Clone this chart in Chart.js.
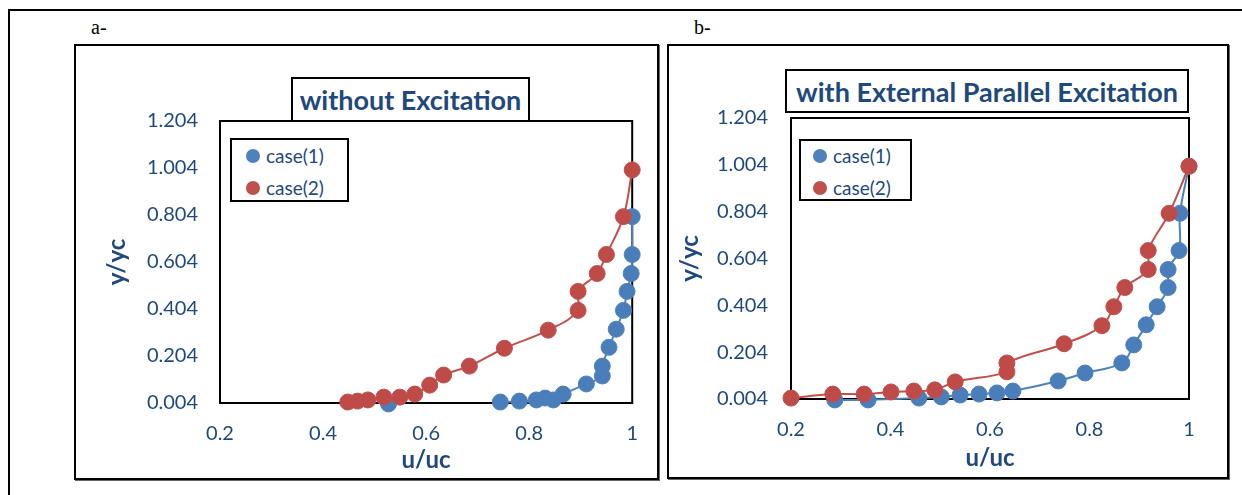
<!DOCTYPE html>
<html>
<head>
<meta charset="utf-8">
<script src="https://cdn.jsdelivr.net/npm/chart.js@4.4.0/dist/chart.umd.min.js"></script>
<style>
  body { margin: 0; background: #fff; width: 1242px; height: 495px; position: relative; overflow: hidden; font-family: Lato, "Open Sans", sans-serif; }
  .line { position: absolute; background: #000; }
  .lbl { position: absolute; font-family: "Liberation Serif", serif; font-size: 20px; color: #000; }
  .box { position: absolute; border: 2px solid #000; box-shadow: 1px 1px 0 #666; background: #fff; }
  .title { position: absolute; border: 2px solid #000; background: #fff; color: #1F497D; font-weight: bold;
           font-size: 27px; display: flex; align-items: center; justify-content: center; white-space: nowrap; }
  .legend { position: absolute; border: 2px solid #000; background: #fff; color: #1F497D; font-size: 19px; }
  .legend div { position: absolute; left: 34px; line-height: 22px; }
  .legend span { position: absolute; width: 14px; height: 14px; border-radius: 50%; left: -20px; top: 4px; }
  canvas { position: absolute; }
</style>
</head>
<body>
<div class="line" style="left:8px;top:9px;width:1234px;height:2px"></div>
<div class="line" style="left:8px;top:9px;width:2px;height:486px"></div>
<div class="lbl" style="left:91px;top:16px">a-</div>
<div class="lbl" style="left:694px;top:16px">b-</div>

<div class="box" style="left:74px;top:44px;width:581px;height:432px"></div>
<div class="box" style="left:667px;top:44px;width:558px;height:431px"></div>

<canvas id="chartA" width="581" height="432" style="left:76px;top:46px"></canvas>
<canvas id="chartB" width="558" height="431" style="left:669px;top:46px"></canvas>

<div class="title" style="left:291px;top:77px;width:235px;height:41px">without Excitation</div>
<div class="title" style="left:785px;top:69px;width:400px;height:40px">with External Parallel Excitation</div>

<div class="legend" style="left:230px;top:138px;width:115px;height:60px">
  <div style="top:5px"><span style="background:#4F81BD"></span>case(1)</div>
  <div style="top:37px"><span style="background:#C0504D"></span>case(2)</div>
</div>
<div class="legend" style="left:799px;top:139px;width:109px;height:58px">
  <div style="top:4px;left:32px"><span style="background:#4F81BD"></span>case(1)</div>
  <div style="top:36px;left:32px"><span style="background:#C0504D"></span>case(2)</div>
</div>

<script>
// tick labels
const xTicks = [0.2, 0.4, 0.6, 0.8, 1];
const yTicks = [0.004, 0.204, 0.404, 0.604, 0.804, 1.004, 1.204];

// chart a - without excitation
const a1U = [0.527, 0.744, 0.781, 0.814, 0.831, 0.847, 0.866, 0.911, 0.942, 0.942, 0.955, 0.969, 0.983, 0.990, 0.998, 1.0, 1.0];
const a1Y = [0.0, 0.008, 0.012, 0.017, 0.025, 0.017, 0.042, 0.085, 0.119, 0.161, 0.241, 0.318, 0.398, 0.479, 0.555, 0.636, 0.797];
const a2U = [0.448, 0.467, 0.487, 0.518, 0.549, 0.578, 0.607, 0.634, 0.684, 0.752, 0.837, 0.895, 0.895, 0.932, 0.950, 0.983, 1.0];
const a2Y = [0.008, 0.012, 0.017, 0.029, 0.029, 0.042, 0.080, 0.123, 0.161, 0.237, 0.314, 0.398, 0.479, 0.555, 0.636, 0.797, 0.996];

// chart b - with external parallel excitation
const b1U = [0.288, 0.355, 0.457, 0.502, 0.540, 0.578, 0.614, 0.646, 0.737, 0.791, 0.865, 0.889, 0.914, 0.936, 0.958, 0.958, 0.980, 0.982, 1.0];
const b1Y = [0.0, 0.0, 0.008, 0.013, 0.021, 0.025, 0.030, 0.038, 0.081, 0.115, 0.158, 0.235, 0.321, 0.398, 0.480, 0.557, 0.638, 0.797, 0.998];
const b2U = [0.2, 0.284, 0.347, 0.401, 0.447, 0.489, 0.530, 0.634, 0.634, 0.749, 0.825, 0.849, 0.871, 0.918, 0.918, 0.960, 1.0];
const b2Y = [0.008, 0.025, 0.025, 0.034, 0.038, 0.043, 0.077, 0.120, 0.158, 0.240, 0.317, 0.398, 0.480, 0.557, 0.638, 0.797, 0.998];

const textColor = '#1F497D';

function pts(us, ys) {
	return us.map((u, i) => ({ x: u, y: ys[i] }));
}

// black frame round the plot area
const frame = {
	id: 'frame',
	beforeDatasetsDraw(chart) {
		const a = chart.chartArea;
		const ctx = chart.ctx;
		ctx.save();
		ctx.strokeStyle = '#000';
		ctx.lineWidth = 2;
		ctx.strokeRect(a.left, a.top, a.right - a.left, a.bottom - a.top);
		ctx.restore();
	}
};

function makeChart(id, s1, s2, lay, hideFirst) {
	const ctx = document.getElementById(id);
	const config = {
		type: 'scatter',
		data: {
			datasets: [
				{
					label: 'case(1)', data: s1, showLine: true, tension: 0.4, order: 1,
					borderColor: '#4F81BD', borderWidth: 2,
					pointRadius: 8, pointBackgroundColor: '#4A7EBB', pointBorderColor: '#4F81BD', pointBorderWidth: 1,
					clip: false,
					segment: {
						borderColor: c => (hideFirst && c.p0DataIndex === 0) ? 'rgba(0,0,0,0)' : undefined
					}
				},
				{
					label: 'case(2)', data: s2, showLine: true, tension: 0.4, order: 0,
					borderColor: '#C0504D', borderWidth: 2,
					pointRadius: 8, pointBackgroundColor: '#BE4B48', pointBorderColor: '#C0504D', pointBorderWidth: 1,
					clip: false
				}
			]
		},
		options: {
			responsive: false,
			animation: false,
			layout: { padding: { top: lay.top, right: lay.right, left: 0, bottom: 0 } },
			plugins: { legend: { display: false }, tooltip: { enabled: false } },
			scales: {
				x: {
					type: 'linear', min: 0.2, max: 1,
					afterBuildTicks: s => { s.ticks = xTicks.map(v => ({ value: v })); },
					afterFit: s => { s.height = lay.xh; },
					grid: { display: false, drawTicks: false },
					border: { display: false },
					ticks: {
						color: textColor, padding: lay.xpad,
						font: { family: 'Lato', size: 20 },
						callback: v => String(v)
					},
					title: {
						display: true, text: 'u/uc', color: textColor,
						font: { family: 'Lato', size: 24, weight: 'bold' },
						padding: { top: 0, bottom: lay.xtpad }
					}
				},
				y: {
					type: 'linear', min: 0.004, max: 1.204,
					afterBuildTicks: s => { s.ticks = yTicks.map(v => ({ value: v })); },
					afterFit: s => { s.width = lay.yw; },
					grid: { display: false, drawTicks: false },
					border: { display: false },
					ticks: {
						color: textColor, padding: lay.ypad,
						font: { family: 'Lato', size: 20 },
						callback: v => v.toFixed(3)
					},
					title: {
						display: true, text: 'y/yc', color: textColor,
						font: { family: 'Lato', size: 24, weight: 'bold' },
						padding: { top: lay.ytpad, bottom: 0 }
					}
				}
			}
		},
		plugins: [frame]
	};
	return new Chart(ctx, config);
}

makeChart('chartA', pts(a1U, a1Y), pts(a2U, a2Y),
	{ top: 75, right: 24, xh: 75, yw: 144, xpad: 19, xtpad: 3, ypad: 22, ytpad: 27 }, true);
makeChart('chartB', pts(b1U, b1Y), pts(b2U, b2Y),
	{ top: 72, right: 38, xh: 78, yw: 122, xpad: 19, xtpad: 4, ypad: 23, ytpad: 7 }, false);
</script>
</body>
</html>
